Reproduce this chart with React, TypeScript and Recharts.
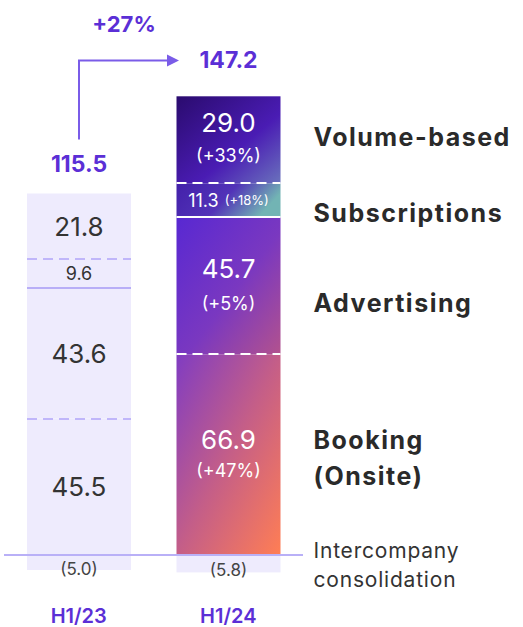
import React from 'react';
import { BarChart, Bar, XAxis, YAxis, LabelList, ReferenceLine } from 'recharts';

const categories = ['H1/23', 'H1/24'];
const booking = [45.5, 66.9];
const advertising = [43.6, 45.7];
const subscriptions = [9.6, 11.3];
const volumeBased = [21.8, 29.0];
const intercompany = [-5.0, -5.8];

const bookingGrowth = ['', '+47%'];
const advertisingGrowth = ['', '+5%'];
const subscriptionsGrowth = ['', '+18%'];
const volumeGrowth = ['', '+33%'];

const totals = [115.5, 147.2];
const totalGrowth = '+27%';

const data = categories.map((name, i) => ({
  name,
  booking: booking[i],
  advertising: advertising[i],
  subscriptions: subscriptions[i],
  volumeBased: volumeBased[i],
  intercompany: intercompany[i],
}));

const FONT = 'Inter, "Noto Sans", sans-serif';
const PURPLE = '#5b2fd6';
const LIGHT = '#eeebfd';
const DARK_TEXT = '#333333';

type LineStyle = 'dashed' | 'solid' | null;

// separator is drawn on the bottom edge of a segment so the next segment doesn't cover it
const makeShape = (fills: string[], bottomLine: LineStyle) => (props: any) => {
  const { x, y, width, height, index } = props;
  const top = Math.min(y, y + height);
  const h = Math.abs(height);
  const bottom = Math.round(top + h);
  const onLight = index === 0;
  const lineColor = onLight ? (bottomLine === 'solid' ? '#b8aef7' : '#c0b6fa') : '#ffffff';
  return (
    <g>
      <rect x={x} y={top} width={width} height={h} fill={fills[index]} />
      {bottomLine && (
        <line
          x1={x}
          x2={x + width}
          y1={bottom}
          y2={bottom}
          stroke={lineColor}
          strokeWidth={2}
          strokeDasharray={bottomLine === 'dashed' ? '10 6' : undefined}
        />
      )}
    </g>
  );
};

type LegendLine = { text: string; dy: number; bold: boolean };

const makeLabel = (
  growth: string[],
  legend: LegendLine[],
  opts: { small?: boolean; inline?: boolean; paren?: boolean; valueDy?: number; growthDy?: number }
) => (props: any) => {
  const { x, y, width, height, value, index } = props;
  const top = Math.min(y, y + height);
  const h = Math.abs(height);
  const cx = x + width / 2;
  const cy = top + h / 2;
  const v = Number(value);
  const txt = opts.paren ? `(${Math.abs(v).toFixed(1)})` : v.toFixed(1);
  const items: React.ReactNode[] = [];

  if (opts.paren) {
    items.push(
      <text key="v" x={cx} y={cy + 6} textAnchor="middle" dominantBaseline="central" fontSize={17} fill="#444" fontFamily={FONT}>
        {txt}
      </text>
    );
  } else if (index === 0) {
    items.push(
      <text key="v" x={cx} y={cy} textAnchor="middle" dominantBaseline="central" fontSize={opts.small ? 18 : 26} fill={DARK_TEXT} fontFamily={FONT}>
        {txt}
      </text>
    );
  } else if (opts.inline) {
    items.push(
      <text key="v" x={cx} y={cy} textAnchor="middle" dominantBaseline="central" fill="#fff" fontFamily={FONT}>
        <tspan fontSize={18}>{txt}</tspan>
        <tspan fontSize={13} dx={6}>({growth[index]})</tspan>
      </text>
    );
  } else {
    items.push(
      <text key="v" x={cx} y={cy + (opts.valueDy ?? -17)} textAnchor="middle" dominantBaseline="central" fontSize={26} fill="#fff" fontFamily={FONT}>
        {txt}
      </text>,
      <text key="g" x={cx} y={cy + (opts.growthDy ?? 17)} textAnchor="middle" dominantBaseline="central" fontSize={18} fill="#fff" fontFamily={FONT}>
        ({growth[index]})
      </text>
    );
  }

  if (index === 1) {
    legend.forEach((l, k) => {
      items.push(
        <text
          key={`l${k}`}
          x={x + width + 33}
          y={cy + l.dy}
          dominantBaseline="central"
          fontSize={l.bold ? 25 : 21}
          fontWeight={l.bold ? 700 : 400}
          letterSpacing={l.bold ? 1.5 : 0.8}
          fill={l.bold ? '#2a2a2a' : '#333'}
          fontFamily={FONT}
        >
          {l.text}
        </text>
      );
    });
  }
  return <g>{items}</g>;
};

const TotalsLabel = (props: any) => {
  const { x, y, width, height, index } = props;
  const top = Math.min(y, y + height);
  const cx = x + width / 2;
  if (index === 0) {
    return (
      <g>
        <text x={cx} y={top - 30} textAnchor="middle" dominantBaseline="central" fontSize={23} fontWeight={700} fill={PURPLE} fontFamily={FONT}>
          {totals[0].toFixed(1)}
        </text>
        <path d={`M${cx},${top - 54} V${top - 133} H${cx + 90}`} fill="none" stroke="#7a5ce8" strokeWidth={2} />
        <polygon points={`${cx + 100},${top - 133} ${cx + 88},${top - 139} ${cx + 88},${top - 127}`} fill="#7a5ce8" />
        <text x={cx + 45} y={top - 170} textAnchor="middle" dominantBaseline="central" fontSize={22} fontWeight={700} fill={PURPLE} fontFamily={FONT}>
          {totalGrowth}
        </text>
      </g>
    );
  }
  return (
    <text x={cx} y={top - 36} textAnchor="middle" dominantBaseline="central" fontSize={23} fontWeight={700} fill={PURPLE} fontFamily={FONT}>
      {totals[1].toFixed(1)}
    </text>
  );
};

const XTick = (props: any) => {
  const { x, y, payload } = props;
  return (
    <text x={x} y={y + 23} textAnchor="middle" dominantBaseline="central" fontSize={20} fontWeight={600} fill={PURPLE} fontFamily={FONT}>
      {payload.value}
    </text>
  );
};

export default function App() {
  return (
    <div style={{ position: 'absolute', left: 0, top: 0, width: 523, height: 627, background: '#fff' }}>
      <BarChart
        width={523}
        height={627}
        data={data}
        stackOffset="sign"
        margin={{ top: 30, right: 220, bottom: 0, left: 4 }}
        barSize={104}
      >
        <defs>
          <linearGradient id="gVol" x1="0" y1="0" x2="1" y2="1">
            <stop offset="0%" stopColor="#2a0b6e" />
            <stop offset="60%" stopColor="#4a1cb4" />
            <stop offset="100%" stopColor="#6a72bc" />
          </linearGradient>
          <linearGradient id="gSub" x1="0" y1="0" x2="1" y2="0.3">
            <stop offset="0%" stopColor="#4320aa" />
            <stop offset="55%" stopColor="#5233b8" />
            <stop offset="100%" stopColor="#72b4b4" />
          </linearGradient>
          <linearGradient id="gAdv" x1="0" y1="0" x2="1" y2="1">
            <stop offset="0%" stopColor="#5828d2" />
            <stop offset="55%" stopColor="#7a38c0" />
            <stop offset="100%" stopColor="#b2528e" />
          </linearGradient>
          <linearGradient id="gBook" x1="0" y1="0" x2="1" y2="1">
            <stop offset="0%" stopColor="#803cc2" />
            <stop offset="50%" stopColor="#c45e88" />
            <stop offset="100%" stopColor="#ff7e54" />
          </linearGradient>
        </defs>
        <XAxis dataKey="name" axisLine={false} tickLine={false} height={42} tick={<XTick />} interval={0} />
        <YAxis hide domain={[-10, 175]} allowDataOverflow />
        <Bar dataKey="intercompany" stackId="a" isAnimationActive={false} shape={makeShape([LIGHT, LIGHT], null)}>
          <LabelList
            dataKey="intercompany"
            content={makeLabel(['', ''], [
              { text: 'Intercompany', dy: -13, bold: false },
              { text: 'consolidation', dy: 16, bold: false },
            ], { paren: true })}
          />
        </Bar>
        <Bar dataKey="booking" stackId="a" isAnimationActive={false} shape={makeShape([LIGHT, 'url(#gBook)'], null)}>
          <LabelList
            dataKey="booking"
            content={makeLabel(bookingGrowth, [
              { text: 'Booking', dy: -15, bold: true },
              { text: '(Onsite)', dy: 21, bold: true },
            ], { valueDy: -15, growthDy: 16 })}
          />
        </Bar>
        <Bar dataKey="advertising" stackId="a" isAnimationActive={false} shape={makeShape([LIGHT, 'url(#gAdv)'], 'dashed')}>
          <LabelList
            dataKey="advertising"
            content={makeLabel(advertisingGrowth, [{ text: 'Advertising', dy: 17, bold: true }], { valueDy: -17, growthDy: 18 })}
          />
        </Bar>
        <Bar dataKey="subscriptions" stackId="a" isAnimationActive={false} shape={makeShape([LIGHT, 'url(#gSub)'], 'solid')}>
          <LabelList
            dataKey="subscriptions"
            content={makeLabel(subscriptionsGrowth, [{ text: 'Subscriptions', dy: 13, bold: true }], { small: true, inline: true })}
          />
        </Bar>
        <Bar dataKey="volumeBased" stackId="a" isAnimationActive={false} shape={makeShape([LIGHT, 'url(#gVol)'], 'dashed')}>
          <LabelList
            dataKey="volumeBased"
            content={makeLabel(volumeGrowth, [{ text: 'Volume-based', dy: -3, bold: true }], { valueDy: -17, growthDy: 16 })}
          />
          <LabelList dataKey="volumeBased" content={<TotalsLabel />} />
        </Bar>
        <ReferenceLine y={0} stroke="#b9b0f7" strokeWidth={2} isFront />
      </BarChart>
    </div>
  );
}
